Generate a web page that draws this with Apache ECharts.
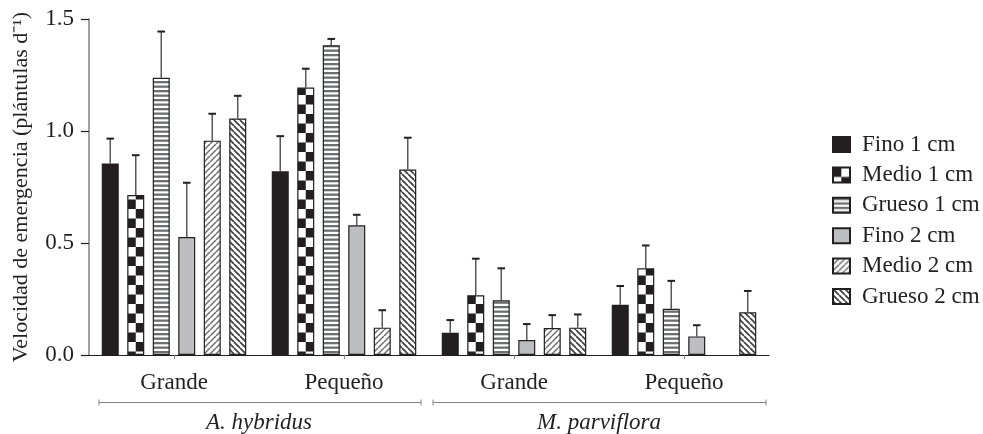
<!DOCTYPE html>
<html><head><meta charset="utf-8">
<script src="https://cdn.jsdelivr.net/npm/echarts@6/dist/echarts.min.js"></script>
<style>html,body{margin:0;padding:0;background:#fff}#c{width:983px;height:434px}</style>
</head><body><div id="c"></div>
<script>
// ---- data ----
const categories = ['Grande', 'Pequeño', 'Grande', 'Pequeño'];
const species = ['A. hybridus', 'M. parviflora'];
const seriesNames = ['Fino 1 cm', 'Medio 1 cm', 'Grueso 1 cm', 'Fino 2 cm', 'Medio 2 cm', 'Grueso 2 cm'];
const yTicks = [0, 0.5, 1.0, 1.5];

// means
const fino1   = [0.855, 0.820, 0.099, 0.224];
const medio1  = [0.714, 1.194, 0.267, 0.387];
const grueso1 = [1.238, 1.383, 0.244, 0.206];
const fino2   = [0.527, 0.579, 0.067, 0.083];
const medio2  = [0.957, 0.122, 0.120, null];
const grueso2 = [1.056, 0.828, 0.122, 0.191];
// upper ends of error bars
const fino1Up   = [0.966, 0.977, 0.156, 0.308];
const medio1Up  = [0.892, 1.278, 0.430, 0.489];
const grueso1Up = [1.444, 1.411, 0.387, 0.331];
const fino2Up   = [0.769, 0.626, 0.138, 0.133];
const medio2Up  = [1.077, 0.200, 0.178, null];
const grueso2Up = [1.157, 0.970, 0.181, 0.286];

const means = [fino1, medio1, grueso1, fino2, medio2, grueso2];
const ups = [fino1Up, medio1Up, grueso1Up, fino2Up, medio2Up, grueso2Up];

// ---- layout / style ----
const FONT = 'Liberation Serif';
const FS = 23;
const TXT = '#231f20';
const GRID = {left: 89, top: 19, width: 680, bottom: 77.3};
const BAR_W = 17, GAP_RATIO = 0.5;
const BAND = GRID.width / categories.length;
const GAP = BAR_W * GAP_RATIO;
const TOTAL = BAR_W * 6 + GAP * 5;

function mk(w, h, draw) {
  const c = document.createElement('canvas');
  c.width = w; c.height = h;
  const g = c.getContext('2d');
  g.fillStyle = '#fff'; g.fillRect(0, 0, w, h);
  draw(g);
  return {image: c, repeat: 'repeat'};
}
// checkerboard aligned to the "Medio 1 cm" bars
const barLeft1 = GRID.left + BAND / 2 - TOTAL / 2 + (BAR_W + GAP);
const phase = ((barLeft1 % BAR_W) + BAR_W) % BAR_W;
const checker = mk(BAR_W, 19, g => {
  g.fillStyle = '#231f20';
  const cw = BAR_W / 2;
  for (const dx of [-BAR_W, 0, BAR_W]) {
    g.fillRect(phase + cw + dx, 0, cw, 9.5);
    g.fillRect(phase + dx, 9.5, cw, 9.5);
  }
});
const hStripes = mk(8, 9, g => {
  g.fillStyle = '#6d6e71';
  g.fillRect(0, 0, 8, 2.3);
  g.fillRect(0, 4.5, 8, 2.3);
});
function diag(dir, color, lw) {
  const s = 6;
  return mk(s, s, g => {
    g.strokeStyle = color; g.lineWidth = lw;
    for (const o of [-s, 0, s]) {
      g.beginPath();
      if (dir > 0) { g.moveTo(o, s); g.lineTo(o + s, 0); }
      else { g.moveTo(o, 0); g.lineTo(o + s, s); }
      g.stroke();
    }
  });
}
const fills = ['#231f20', checker, hStripes, '#bcbec0', diag(1, '#6d6e71', 1.5), diag(-1, '#414042', 1.7)];

const barSeries = seriesNames.map((n, i) => ({
  name: n, type: 'bar', barWidth: BAR_W, barGap: (GAP_RATIO * 100) + '%',
  data: means[i],
  itemStyle: {color: fills[i], borderColor: '#231f20', borderWidth: 1.2},
  z: 3
}));

const errData = [];
means.forEach((arr, s) => arr.forEach((v, k) => {
  if (v != null && ups[s][k] != null) errData.push([k, s, v, ups[s][k]]);
}));

const errSeries = {
  type: 'custom', silent: true, z: 2, data: errData,
  encode: {x: 0, y: 3},
  renderItem(params, api) {
    const k = api.value(0), s = api.value(1);
    const base = api.coord([k, api.value(2)]);
    const top = api.coord([k, api.value(3)]);
    const x = base[0] - TOTAL / 2 + s * (BAR_W + GAP) + BAR_W / 2;
    return {type: 'group', children: [
      {type: 'line', shape: {x1: x, y1: base[1], x2: x, y2: top[1]}, style: {stroke: '#58595b', lineWidth: 1.5}},
      {type: 'line', shape: {x1: x - 3.8, y1: top[1], x2: x + 3.8, y2: top[1]}, style: {stroke: '#231f20', lineWidth: 2}}
    ]};
  }
};

const chart = echarts.init(document.getElementById('c'), null, {renderer: 'canvas'});
chart.setOption({
  animation: false,
  backgroundColor: '#fff',
  textStyle: {fontFamily: FONT, color: TXT},
  grid: {left: GRID.left, top: GRID.top, width: GRID.width, bottom: GRID.bottom, containLabel: false},
  legend: {
    data: seriesNames, orient: 'vertical', left: 827, top: 128,
    icon: 'rect', itemWidth: 17, itemHeight: 15, itemGap: 7.4,
    textStyle: {fontFamily: FONT, fontSize: FS, color: TXT, lineHeight: 23, padding: [0, 0, 0, 7]},
    selectedMode: false
  },
  xAxis: [{
    type: 'category', data: categories, position: 'bottom',
    axisLine: {show: true, lineStyle: {color: '#231f20', width: 1.2}},
    axisTick: {show: true, alignWithLabel: true, length: 4, lineStyle: {color: '#808285'}},
    axisLabel: {fontFamily: FONT, fontSize: FS, color: TXT, margin: 16}
  }, {
    type: 'category', data: species, position: 'bottom', offset: 47,
    axisLine: {show: false}, axisTick: {show: false},
    axisLabel: {fontFamily: FONT, fontSize: FS, fontStyle: 'italic', color: TXT, margin: 9}
  }],
  yAxis: {
    type: 'value', min: yTicks[0], max: yTicks[yTicks.length - 1], interval: yTicks[1] - yTicks[0],
    name: 'Velocidad de emergencia (plántulas d⁻¹)',
    nameLocation: 'middle', nameGap: 57, nameRotate: 90,
    nameTextStyle: {fontFamily: FONT, fontSize: 22, color: TXT},
    axisLine: {show: true, lineStyle: {color: '#808285', width: 1.5}},
    axisTick: {show: true, length: 8, lineStyle: {color: '#231f20', width: 1.2}},
    axisLabel: {fontFamily: FONT, fontSize: FS, color: TXT, margin: 15, formatter: v => v.toFixed(1)},
    splitLine: {show: false}
  },
  series: [...barSeries, errSeries]
});

// species brackets, placed from the axis scales
const c0 = chart.convertToPixel({xAxisIndex: 0}, 0);
const c1 = chart.convertToPixel({xAxisIndex: 0}, 1);
const band = c1 - c0;
const y0 = chart.convertToPixel({yAxisIndex: 0}, 0);
const by = y0 + 47.5;
const b = i => c0 - band / 2 + i * band;
const spans = [[b(0) + 10, b(2) - 8], [b(2) + 4, b(4) - 3]];
const gfx = [];
spans.forEach(([xa, xb]) => {
  gfx.push({type: 'line', shape: {x1: xa, y1: by, x2: xb, y2: by}, style: {stroke: '#808285', lineWidth: 1.2}});
  gfx.push({type: 'line', shape: {x1: xa, y1: by - 3, x2: xa, y2: by + 3}, style: {stroke: '#808285', lineWidth: 1}});
  gfx.push({type: 'line', shape: {x1: xb, y1: by - 3, x2: xb, y2: by + 3}, style: {stroke: '#808285', lineWidth: 1}});
});
chart.setOption({graphic: gfx});
</script>
</body></html>
